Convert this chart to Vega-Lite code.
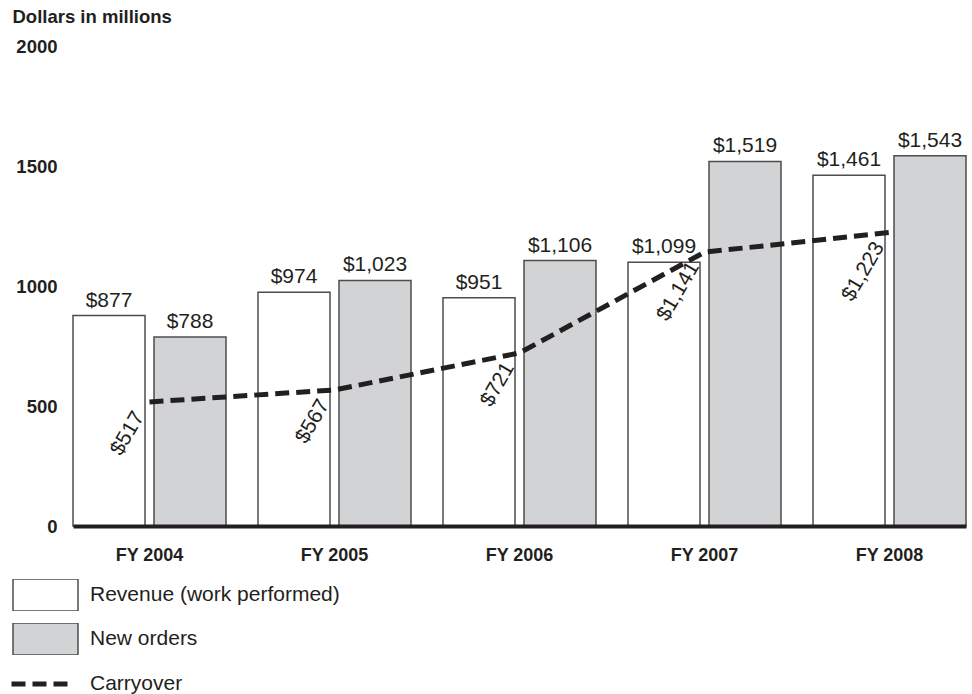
{
  "$schema": "https://vega.github.io/schema/vega-lite/v6.json",
  "width": 893,
  "height": 480,
  "autosize": {"type": "none"},
  "padding": {"left": 73, "top": 46, "right": 6, "bottom": 168},
  "background": "white",
  "config": {
    "view": {"stroke": null},
    "font": "Liberation Sans"
  },
  "data": {
    "values": [
      {"year": "FY 2004", "series": "Revenue (work performed)", "value": 877},
      {"year": "FY 2004", "series": "New orders", "value": 788},
      {"year": "FY 2004", "series": "Carryover", "value": 517},
      {"year": "FY 2005", "series": "Revenue (work performed)", "value": 974},
      {"year": "FY 2005", "series": "New orders", "value": 1023},
      {"year": "FY 2005", "series": "Carryover", "value": 567},
      {"year": "FY 2006", "series": "Revenue (work performed)", "value": 951},
      {"year": "FY 2006", "series": "New orders", "value": 1106},
      {"year": "FY 2006", "series": "Carryover", "value": 721},
      {"year": "FY 2007", "series": "Revenue (work performed)", "value": 1099},
      {"year": "FY 2007", "series": "New orders", "value": 1519},
      {"year": "FY 2007", "series": "Carryover", "value": 1141},
      {"year": "FY 2008", "series": "Revenue (work performed)", "value": 1461},
      {"year": "FY 2008", "series": "New orders", "value": 1543},
      {"year": "FY 2008", "series": "Carryover", "value": 1223}
    ]
  },
  "encoding": {
    "x": {
      "field": "year",
      "type": "nominal",
      "sort": null,
      "scale": {"paddingInner": 0.173, "paddingOuter": 0},
      "axis": {
        "title": null,
        "labelAngle": 0,
        "domainWidth": 4,
        "domainColor": "#231f20",
        "ticks": false,
        "labelFontSize": 18,
        "labelFontWeight": "bold",
        "labelColor": "#231f20",
        "labelPadding": 20,
        "zindex": 1
      }
    },
    "y": {
      "field": "value",
      "type": "quantitative",
      "scale": {"domain": [0, 2000], "nice": false},
      "axis": {
        "values": [0, 500, 1000, 1500, 2000],
        "format": "d",
        "domain": false,
        "ticks": false,
        "grid": false,
        "labelFontSize": 18.5,
        "labelFontWeight": "bold",
        "labelColor": "#231f20",
        "labelPadding": 16,
        "title": "Dollars in millions",
        "titleAngle": 0,
        "titleAlign": "left",
        "titleBaseline": "alphabetic",
        "titleX": -61,
        "titleY": -24,
        "titleFontSize": 18.5,
        "titleFontWeight": "bold",
        "titleColor": "#231f20"
      }
    }
  },
  "layer": [
    {
      "transform": [{"filter": "datum.series !== 'Carryover'"}],
      "mark": {"type": "bar", "stroke": "#4d4d4d", "strokeWidth": 1.5},
      "encoding": {
        "xOffset": {
          "field": "series",
          "type": "nominal",
          "scale": {
            "domain": ["Revenue (work performed)", "New orders"],
            "paddingInner": 0.111,
            "paddingOuter": 0
          }
        },
        "fill": {
          "field": "series",
          "type": "nominal",
          "scale": {
            "domain": ["Revenue (work performed)", "New orders"],
            "range": ["#ffffff", "#d1d3d4"]
          },
          "legend": {
            "orient": "none",
            "direction": "vertical",
            "legendX": -61,
            "legendY": 533,
            "title": null,
            "padding": 0,
            "symbolType": "M-1,-0.49H1V0.49H-1Z",
            "symbolSize": 4225,
            "symbolStrokeColor": "#4d4d4d",
            "symbolStrokeWidth": 1.5,
            "clipHeight": 32,
            "rowPadding": 12,
            "labelOffset": 11,
            "labelFontSize": 21,
            "labelFont": "Liberation Sans",
            "labelColor": "#231f20",
            "labelLimit": 400
          }
        }
      }
    },
    {
      "transform": [{"filter": "datum.series !== 'Carryover'"}],
      "mark": {"type": "text", "baseline": "alphabetic", "dy": -9, "fontSize": 21, "color": "#231f20"},
      "encoding": {
        "xOffset": {"field": "series", "type": "nominal"},
        "text": {"field": "value", "type": "quantitative", "format": "$,.0f"}
      }
    },
    {
      "transform": [{"filter": "datum.series === 'Carryover'"}],
      "mark": {
        "type": "line",
        "color": "#231f20",
        "strokeWidth": 5,
        "strokeCap": "butt",
        "interpolate": "linear"
      },
      "encoding": {
        "strokeDash": {
          "field": "series",
          "type": "nominal",
          "scale": {"domain": ["Carryover"], "range": [[14, 7]]},
          "legend": {
            "orient": "none",
            "direction": "vertical",
            "legendX": -64,
            "legendY": 633,
            "title": null,
            "padding": 0,
            "symbolType": "stroke",
            "symbolSize": 3136,
            "symbolStrokeColor": "#231f20",
            "symbolStrokeWidth": 5,
            "clipHeight": 10,
            "labelOffset": 20,
            "labelFontSize": 21,
            "labelFont": "Liberation Sans",
            "labelColor": "#231f20",
            "labelLimit": 400
          }
        }
      }
    },
    {
      "transform": [{"filter": "datum.series === 'Carryover'"}],
      "mark": {
        "type": "text",
        "angle": 300,
        "align": "right",
        "baseline": "alphabetic",
        "dx": -15,
        "dy": 3,
        "fontSize": 21,
        "color": "#231f20"
      },
      "encoding": {
        "text": {"field": "value", "type": "quantitative", "format": "$,.0f"}
      }
    }
  ]
}
